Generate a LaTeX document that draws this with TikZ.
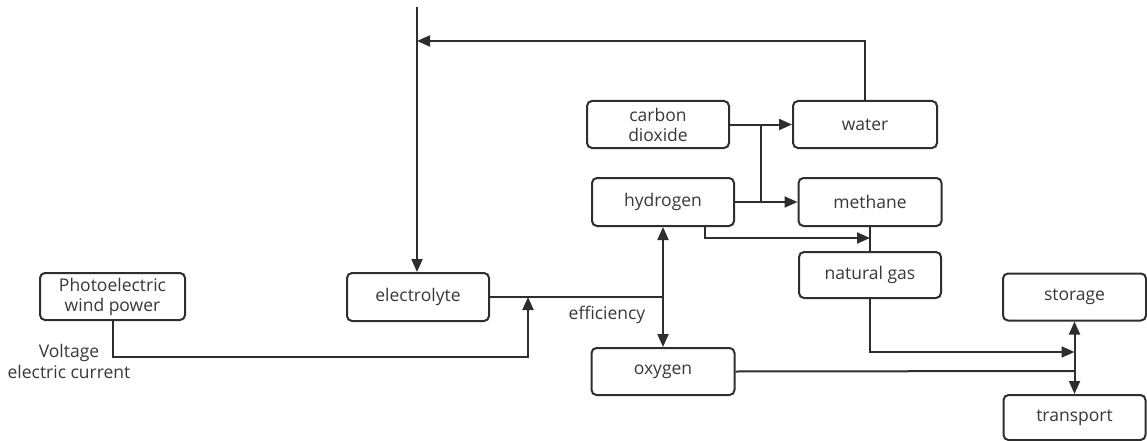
\documentclass[tikz,border=0pt]{standalone}
\usepackage{fontspec}
\setmainfont{Open Sans}
\usetikzlibrary{arrows.meta}
\definecolor{ink}{HTML}{2E2E2E}
\definecolor{txt}{HTML}{383838}
\tikzset{
  box/.style={draw=ink, line width=2pt, rounded corners=5pt, align=center,
    font=\fontsize{17.5}{20}\selectfont, text=txt, inner sep=0pt},
  conn/.style={draw=ink, line width=2pt},
  arr/.style={conn, -{Triangle[length=13pt,width=11pt]}},
  darr/.style={conn, {Triangle[length=13pt,width=11pt]}-{Triangle[length=13pt,width=11pt]}},
  lbl/.style={font=\fontsize{17.5}{21}\selectfont, text=txt, align=center, inner sep=0pt}
}
\begin{document}
\begin{tikzpicture}[x=1pt,y=-1pt]
\useasboundingbox (0,0) rectangle (1147,441);
% boxes
\node[box, minimum width=145pt, minimum height=47pt] (pe) at (112.5,296.5) {Photoelectric\\wind power};
\node[box, minimum width=142pt, minimum height=48pt] (el) at (418,297) {electrolyte};
\node[box, minimum width=142pt, minimum height=47pt] (co) at (658,124.5) {carbon\\dioxide};
\node[box, minimum width=144pt, minimum height=47pt] (wa) at (865,124.5) {water};
\node[box, minimum width=142pt, minimum height=48pt] (hy) at (663,202) {hydrogen};
\node[box, minimum width=143pt, minimum height=48pt] (me) at (870,202) {methane};
\node[box, minimum width=142pt, minimum height=46pt] (ng) at (870,275) {natural gas};
\node[box, minimum width=143pt, minimum height=47pt] (st) at (1074.5,297) {storage};
\node[box, minimum width=142pt, minimum height=45pt] (tr) at (1074.5,417.5) {transport};
\node[box, minimum width=143pt, minimum height=47pt] (ox) at (663,371.5) {oxygen};
% labels
\node[lbl] (eff) at (607,315) {efficiency};
\node[lbl] (volt) at (69,361) {Voltage\\electric current};
% coordinates
\coordinate (top) at (417,7);
\coordinate (wt) at (417,41);
\coordinate (j1) at (528,297);
\coordinate (j1b) at (528,357);
\coordinate (j2) at (663,297);
\coordinate (j3) at (761,0);
\coordinate (j5) at (870,238);
\coordinate (j6) at (1074.5,352);
\coordinate (j7) at (1074.5,371);
% connectors
\draw[arr] (top) -- (top |- el.north);
\draw[arr] (wa.north) |- (wt);
\draw[arr] (pe.south) |- (j1b) -- (j1);
\draw[conn] (el.east) -- (j2);
\draw[arr] (j2) -- (hy.south);
\draw[arr] (j2) -- (ox.north);
\draw[arr] (co.east) -- (wa.west);
\draw[arr] (hy.east) -- (me.west);
\draw[conn] (j3 |- co.east) -- (j3 |- hy.east);
\draw[arr] ([xshift=42pt]hy.south) |- (j5);
\draw[conn] (me.south) -- (ng.north);
\draw[arr] (ng.south) |- (j6);
\draw[conn] (ox.east) -- (j7);
\draw[darr] (st.south) -- (tr.north);
\end{tikzpicture}
\end{document}
